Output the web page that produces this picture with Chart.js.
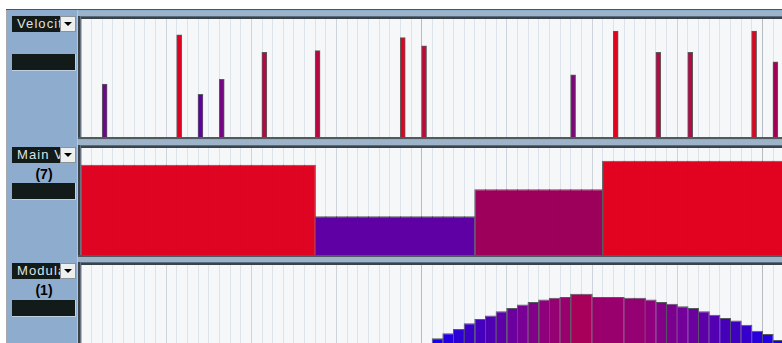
<!DOCTYPE html>
<html><head><meta charset="utf-8">
<script src="https://cdn.jsdelivr.net/npm/chart.js@4.4.1/dist/chart.umd.min.js"></script>
<style>
html,body{margin:0;padding:0;}
body{width:782px;height:343px;overflow:hidden;position:relative;background:#fff;font-family:"Liberation Sans",Arial,sans-serif;}
.a{position:absolute;}
.lbl{position:absolute;left:12px;width:43px;height:16px;background:#121a1a;color:#dfe3e3;font-size:13px;line-height:16px;padding-left:5px;overflow:hidden;white-space:nowrap;letter-spacing:1.1px;}
.dd{position:absolute;left:60px;width:14px;height:14px;background:#eef0f0;border:1px solid #8a9298;}
.dd::after{content:"";position:absolute;left:3px;top:5px;border-left:4px solid transparent;border-right:4px solid transparent;border-top:4px solid #000;}
.num{position:absolute;left:12px;width:64px;text-align:center;font-weight:bold;font-size:14px;line-height:16px;color:#000;}
.blk{position:absolute;left:12px;width:63px;height:16px;background:#121a1a;border-right:1px solid #bfd0e0;border-bottom:1px solid #bfd0e0;}
canvas{position:absolute;left:81px;background:#f5f7f9;}
</style></head>
<body>
<div class="a" style="left:7px;top:10px;width:775px;height:333px;background:#8eaccd"></div>
<div class="a" style="left:6px;top:9px;width:1px;height:334px;background:#a4a8ac"></div>
<div class="a" style="left:6px;top:9px;width:776px;height:1px;background:#4a5560"></div>
<div class="a" style="left:77px;top:10px;width:1px;height:333px;background:#b4c6d8"></div>
<div id="root"></div>
<script>
// ---- data ----
const laneNames = ['Velocity', 'Main Volume', 'Modulation'];
const laneNumbers = ['', '(7)', '(1)'];
const velocityPositions = [2, 9, 11, 13, 17, 22, 30, 32, 46, 50, 54, 57, 63, 65];
const velocityValues = [57, 110, 46, 62, 91, 93, 107, 98, 67, 114, 91, 91, 114, 81];
const mainVolumeStarts = [0, 22, 37, 49];
const mainVolumeValues = [107, 46, 78, 112];
const modulationStarts = [33, 34, 35, 36, 37, 38, 39, 40, 41, 42, 43, 44, 45, 46, 48, 51, 53, 54, 55, 56, 57, 58, 59, 60, 61, 62, 63, 64, 65];
const modulationValues = [40, 46, 51, 58, 63, 67, 72, 76, 80, 83, 86, 88, 89, 93, 89, 88, 86, 83, 81, 78, 76, 72, 68, 64, 61, 56, 49, 45, 38];
const modulationEnd = 66;
const gridUnits = 68;
const valueMax = 127;

// ---- styles ----
const velStops = [[0,[0,0,255]],[46,[94,0,164]],[57,[108,8,140]],[67,[124,8,120]],[78,[156,0,90]],[91,[178,10,70]],[98,[192,8,56]],[107,[222,4,34]],[127,[232,0,24]]];
const modStops = [[0,[0,0,255]],[38,[22,0,242]],[51,[44,0,212]],[63,[68,0,188]],[72,[94,0,168]],[80,[120,0,148]],[86,[142,0,124]],[93,[168,0,90]],[127,[232,0,24]]];
function makeColor(stops){
  return v => {
    let i = 0;
    while (i < stops.length - 2 && v > stops[i+1][0]) i++;
    const [v0,c0] = stops[i], [v1,c1] = stops[i+1];
    const t = Math.max(0, Math.min(1, (v - v0) / (v1 - v0)));
    const c = c0.map((a,j) => Math.round(a + (c1[j]-a)*t));
    return `rgb(${c[0]},${c[1]},${c[2]})`;
  };
}
const velColor = makeColor(velStops);
const modColor = makeColor(modStops);
const lanes = [{top:19,h:118},{top:148,h:107},{top:265,h:107}];
const labelTops = [16,147,263];
const numTops = [0,166,282];
const blkTops = [54,183,300];
const noteOffset = 0.22;

const root = document.getElementById('root');
function div(cls, style, text){ const d=document.createElement('div'); if(cls) d.className=cls; d.style.cssText=style; if(text) d.textContent=text; root.appendChild(d); return d; }

lanes.forEach((L,i)=>{
  div('a', `left:78px;top:${L.top-8}px;width:704px;height:5px;background:#9db3c9`);
  div('a', `left:78px;top:${L.top-3}px;width:704px;height:3px;background:linear-gradient(#5c6c7c 0 1px,#3a424a 1px 3px)`);
  div('a', `left:78px;top:${L.top-3}px;width:3px;height:${L.h+3}px;background:linear-gradient(90deg,#3a424a 0 2px,#6a7480 2px 3px)`);
  div('a', `left:78px;top:${L.top+L.h}px;width:704px;height:2px;background:#505860`);
  div('lbl', `top:${labelTops[i]}px`, laneNames[i]);
  div('dd', `top:${labelTops[i]}px`);
  if (laneNumbers[i]) div('num', `top:${numTops[i]}px`, laneNumbers[i]);
  div('blk', `top:${blkTops[i]}px`);
});

function makeCanvas(L){
  const c = document.createElement('canvas');
  c.width = 724; c.height = L.h;
  c.style.top = L.top + 'px';
  root.appendChild(c);
  return c;
}
function expand(starts, values, end){
  const cells = [];
  starts.forEach((s,i)=>{
    const e = i+1 < starts.length ? starts[i+1] : end;
    for (let c=s; c<e; c++) cells.push({x:c+0.5, y:values[i], first:c===s, last:c===e-1});
  });
  return cells;
}
function opts(){
  return {
    responsive:false, animation:false, events:[],
    layout:{padding:0},
    plugins:{legend:{display:false}, tooltip:{enabled:false}},
    scales:{
      x:{type:'linear', min:0, max:gridUnits, offset:false, display:true,
         ticks:{display:false, stepSize:1, maxTicksLimit:200, autoSkip:false},
         grid:{offset:false, drawTicks:false, lineWidth:1,
               color: ctx => { const v = ctx.tick ? ctx.tick.value : 0; return v % 32 === 0 ? '#b6bbc1' : (v % 8 === 0 ? '#cdd4db' : '#dce3ea'); }},
         border:{display:false}},
      y:{min:0, max:valueMax, display:false}
    }
  };
}
const cellStyle = (colorFn) => ({
  backgroundColor: ctx => colorFn(ctx.raw.y),
  borderColor:'#555a5e',
  borderWidth: ctx => ({top:1, left: ctx.raw.first?1:0, right: ctx.raw.last?1:0, bottom:0}),
  borderSkipped:false,
  inflateAmount:0,
  barPercentage:1.12, categoryPercentage:1
});

new Chart(makeCanvas(lanes[0]), {
  type:'bar',
  data:{datasets:[{
    data: velocityPositions.map((p,i)=>({x:p+noteOffset, y:velocityValues[i]})),
    backgroundColor: ctx => velColor(ctx.raw.y),
    borderColor:'#5c5c5c', borderWidth:1, borderSkipped:'bottom',
    barThickness:5
  }]},
  options: opts()
});
new Chart(makeCanvas(lanes[1]), {
  type:'bar',
  data:{datasets:[Object.assign({data: expand(mainVolumeStarts, mainVolumeValues, gridUnits)}, cellStyle(velColor))]},
  options: opts()
});
new Chart(makeCanvas(lanes[2]), {
  type:'bar',
  data:{datasets:[Object.assign({data: expand(modulationStarts, modulationValues, modulationEnd)}, cellStyle(modColor))]},
  options: opts()
});
</script>
</body></html>
